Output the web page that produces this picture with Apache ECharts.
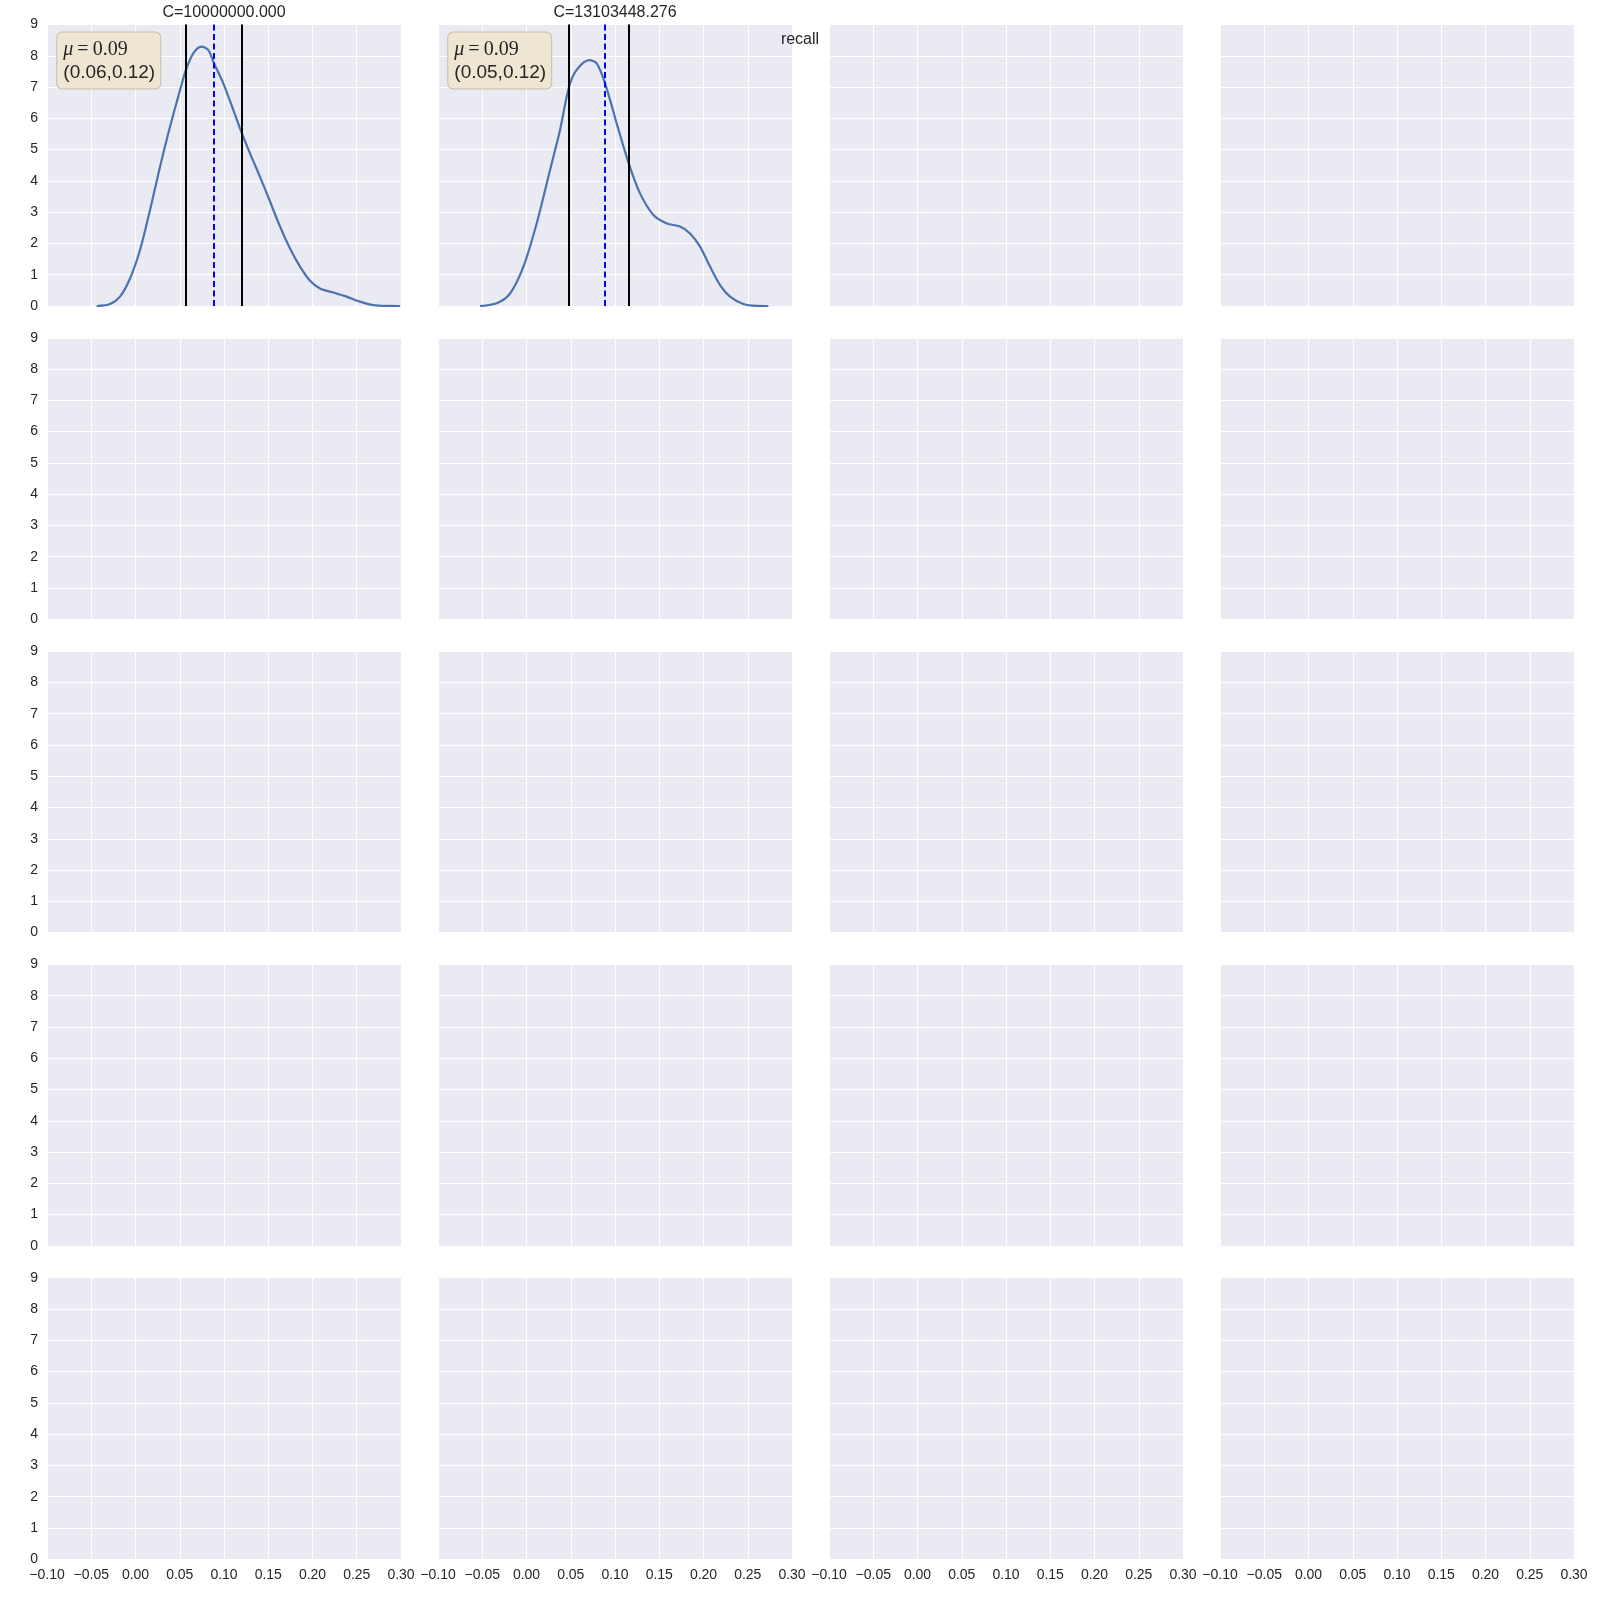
<!DOCTYPE html>
<html><head><meta charset="utf-8">
<script src="https://cdn.jsdelivr.net/npm/echarts@6/dist/echarts.min.js"></script>
<style>html,body{margin:0;padding:0;background:#fff}#c{width:1600px;height:1600px}</style>
</head><body><div id="c"></div>
<script>
// ---- data ----
const panelTitles = ['C=10000000.000', 'C=13103448.276'];
const suptitle = 'recall';
const curve1 = [[-0.0438,0],[-0.0288,0.064],[-0.0175,0.30],[-0.0062,0.88],[0.0051,1.79],[0.0164,3.07],[0.0277,4.45],[0.039,5.73],[0.0503,6.9],[0.057,7.55],[0.0653,8.08],[0.0747,8.29],[0.0823,8.18],[0.0887,7.76],[0.0992,7.12],[0.1105,6.27],[0.1196,5.57],[0.1294,4.88],[0.1407,4.13],[0.152,3.34],[0.1633,2.54],[0.1746,1.84],[0.1859,1.26],[0.1972,0.81],[0.2085,0.56],[0.2235,0.43],[0.2386,0.30],[0.2537,0.14],[0.2688,0.03],[0.2838,0.003],[0.299,0]];
const curve2 = [[-0.0525,0],[-0.0337,0.085],[-0.0186,0.40],[-0.0035,1.26],[0.0115,2.64],[0.0266,4.35],[0.0379,5.63],[0.0481,7.01],[0.0567,7.55],[0.071,7.86],[0.0793,7.76],[0.0888,7.12],[0.1019,5.84],[0.1155,4.56],[0.1283,3.6],[0.1434,2.91],[0.1585,2.64],[0.1735,2.54],[0.1848,2.32],[0.1961,1.90],[0.2074,1.26],[0.2187,0.67],[0.23,0.30],[0.2451,0.064],[0.2601,0.005],[0.2733,0]];
const ciLow = [0.057, 0.0481];
const ciHigh = [0.1196, 0.1155];
const means = [0.0887, 0.0888];
const meanLabels = ['0.09', '0.09'];
const ciLabels = ['(0.06,0.12)', '(0.05,0.12)'];
const xMin = -0.10, xMax = 0.30, xStep = 0.05;
const yMin = 0, yMax = 9, yStep = 1;

// ---- layout ----
const nRows = 5, nCols = 4;
const gLeft = 47, gTop = 24.5, gW = 354, gH = 281.5, pitchX = 391, pitchY = 313.3;
const txt = '#262626';

const grids = [], xAxes = [], yAxes = [], series = [], graphics = [];
for (let i = 0; i < nRows; i++) {
  for (let j = 0; j < nCols; j++) {
    const k = i * nCols + j;
    grids.push({left: gLeft + j * pitchX, top: gTop + i * pitchY, width: gW, height: gH,
      show: true, backgroundColor: '#eaeaf2', borderWidth: 0, containLabel: false});
    xAxes.push({gridIndex: k, type: 'value', min: xMin, max: xMax, interval: xStep,
      axisLine: {show: false}, axisTick: {show: false},
      splitLine: {show: true, lineStyle: {color: '#ffffff', width: 1}},
      axisLabel: {show: i === nRows - 1, margin: 9, color: txt, fontSize: 14, fontFamily: 'Liberation Sans',
        formatter: v => { if (Math.abs(v) < 1e-9) v = 0; return (v < 0 ? '\u2212' : '') + Math.abs(v).toFixed(2); }}});
    yAxes.push({gridIndex: k, type: 'value', min: yMin, max: yMax, interval: yStep,
      axisLine: {show: false}, axisTick: {show: false},
      splitLine: {show: true, lineStyle: {color: '#ffffff', width: 1}},
      axisLabel: {show: j === 0, margin: 9, color: txt, fontSize: 14, fontFamily: 'Liberation Sans'}});
  }
}

const vline = (x, style) => [{coord: [x, yMin], lineStyle: style}, {coord: [x, yMax]}];
const curves = [curve1, curve2];
curves.forEach((c, p) => {
  const blk = {color: '#000000', type: 'solid', width: 2};
  series.push({type: 'line', xAxisIndex: p, yAxisIndex: p, data: c, symbol: 'none', smooth: 0.3,
    clip: true,
    lineStyle: {color: '#4c72b0', width: 2.2},
    markLine: {silent: true, precision: 6, symbol: ['none', 'none'], label: {show: false}, animation: false,
      data: [
        vline(ciLow[p], blk),
        vline(ciHigh[p], blk),
        vline(means[p], {color: '#0000ff', type: [6, 3.5], width: 2})
      ]}});
  const cx = gLeft + p * pitchX + gW / 2;
  graphics.push({type: 'text', x: cx, y: 12.5, style: {text: panelTitles[p], align: 'center', verticalAlign: 'middle',
    fill: txt, font: '16px "Liberation Sans"'}});
  graphics.push({type: 'text', x: gLeft + p * pitchX + 10.3, y: 32.5, z: 100, style: {
    text: '{mu|\u03bc}{m|\u2009=\u20090' + meanLabels[p].slice(1) + '}\n{n|' + ciLabels[p] + '}',
    align: 'left', verticalAlign: 'top',
    backgroundColor: '#efe5d3', borderColor: '#c6bcab', borderWidth: 1, borderRadius: 5,
    padding: [6, 5, 4, 6],
    rich: {
      mu: {fontFamily: 'Liberation Serif', fontStyle: 'italic', fontSize: 20, lineHeight: 23, fill: txt, color: txt},
      m: {fontFamily: 'Liberation Serif', fontSize: 20, lineHeight: 23, fill: txt, color: txt},
      n: {fontFamily: 'Liberation Sans', fontSize: 19, lineHeight: 23, fill: txt, color: txt}
    }}});
});
graphics.push({type: 'text', x: 800, y: 39.5, z: 100, style: {text: suptitle, align: 'center', verticalAlign: 'middle',
  fill: txt, font: '16px "Liberation Sans"'}});

const chart = echarts.init(document.getElementById('c'), null, {renderer: 'canvas'});
chart.setOption({animation: false, backgroundColor: '#ffffff', grid: grids, xAxis: xAxes, yAxis: yAxes,
  series: series, graphic: graphics});
</script></body></html>
